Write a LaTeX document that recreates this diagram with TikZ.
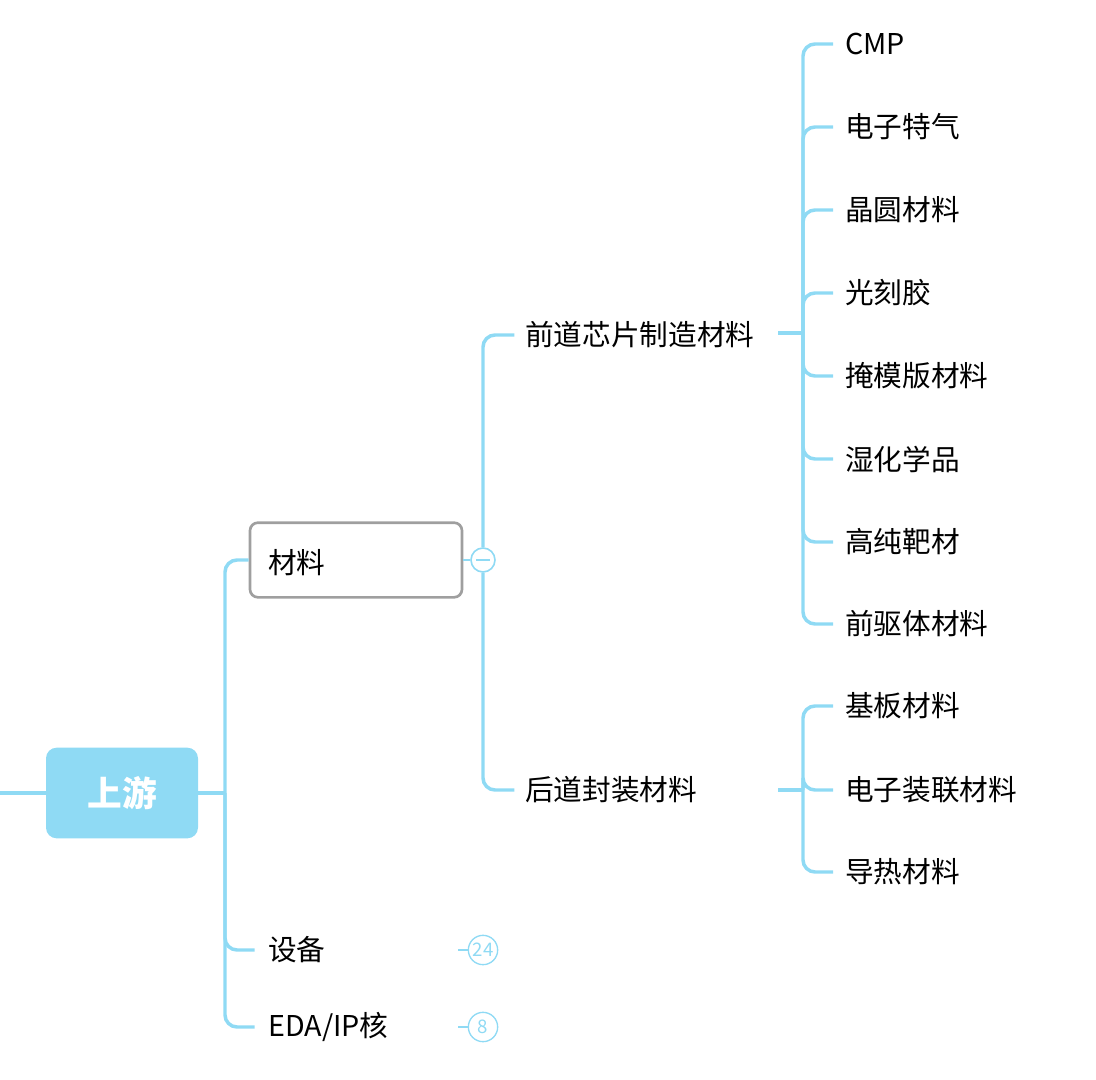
\documentclass[tikz,border=0pt]{standalone}
\usepackage{fontspec}
\setmainfont{Noto Sans CJK SC}
\begin{document}
\begin{tikzpicture}[x=0.75pt,y=-0.75pt,
  ln/.style={draw=lb,line width=2.6pt,rounded corners=9pt},
  lf/.style={anchor=west,inner sep=0pt,font=\fontsize{21.5}{25}\selectfont},
  badge/.style={circle,draw=lb,line width=1pt,minimum size=22pt,inner sep=0pt,text=lb,font=\fontsize{14}{16}\selectfont}]
\definecolor{lb}{HTML}{8FDAF4}
\useasboundingbox (0,0) rectangle (1096,1080);
\node[fill=lb,rounded corners=8pt,minimum width=114pt,minimum height=68pt,text=white,font=\fontsize{26}{30}\selectfont\bfseries] (root) at (122,793) {上游};
\coordinate (in) at (0,793);
\draw[ln] (in) -- (root.west);
\node[draw=gray!75,line width=2pt,rounded corners=6pt,minimum width=159pt,minimum height=56pt] (cl) at (356,560) {};
\node[lf] (cailiao) at (268,563) {材料};
\node[lf] (shebei) at (268,950) {设备};
\node[lf] (eda) at (268,1027) {EDA/IP核};
\coordinate (t) at (225,793);
\draw[ln] (root.east) -- (t);
\draw[ln] (t) |- (cl.west);
\draw[ln] (t) |- ([xshift=-10pt]shebei.west);
\draw[ln] (t) |- ([xshift=-10pt]eda.west);
\node[badge] (b1) at (483,950) {24};
\node[badge] (b2) at (483,1027) {8};
\draw[draw=lb,line width=1.5pt] (458,950) -- (b1.west);
\draw[draw=lb,line width=1.5pt] (458,1027) -- (b2.west);
\node[lf] (qd) at (525,335) {前道芯片制造材料};
\node[lf] (hd) at (525,790) {后道封装材料};
\node[circle,draw=lb,fill=white,line width=1.2pt,minimum size=18pt,inner sep=0pt] (col) at (483,560) {};
\draw[ln,line width=1.5pt] (cl.east) -- (col.west);
\draw[ln] (col.north) |- ([xshift=-8pt]qd.west);
\draw[ln] (col.south) |- ([xshift=-8pt]hd.west);
\draw[draw=lb,line width=1.2pt] (476,560) -- (490,560);
\foreach \n/\y/\t in {a/44/CMP,b/127/电子特气,c/210/晶圆材料,d/293/光刻胶,e/376/掩模版材料,f/459/湿化学品,g/542/高纯靶材,h/624/前驱体材料}{
  \node[lf] (\n) at (845,\y) {\t};
  \draw[ln] (803,333) |- ([xshift=-9pt]\n.west);
}
\draw[ln] (778,333) -- (803,333);
\foreach \n/\y/\t in {i/706/基板材料,j/790/电子装联材料,k/872/导热材料}{
  \node[lf] (\n) at (845,\y) {\t};
  \draw[ln] (803,790) |- ([xshift=-9pt]\n.west);
}
\draw[ln] (778,790) -- (803,790);
\end{tikzpicture}
\end{document}
